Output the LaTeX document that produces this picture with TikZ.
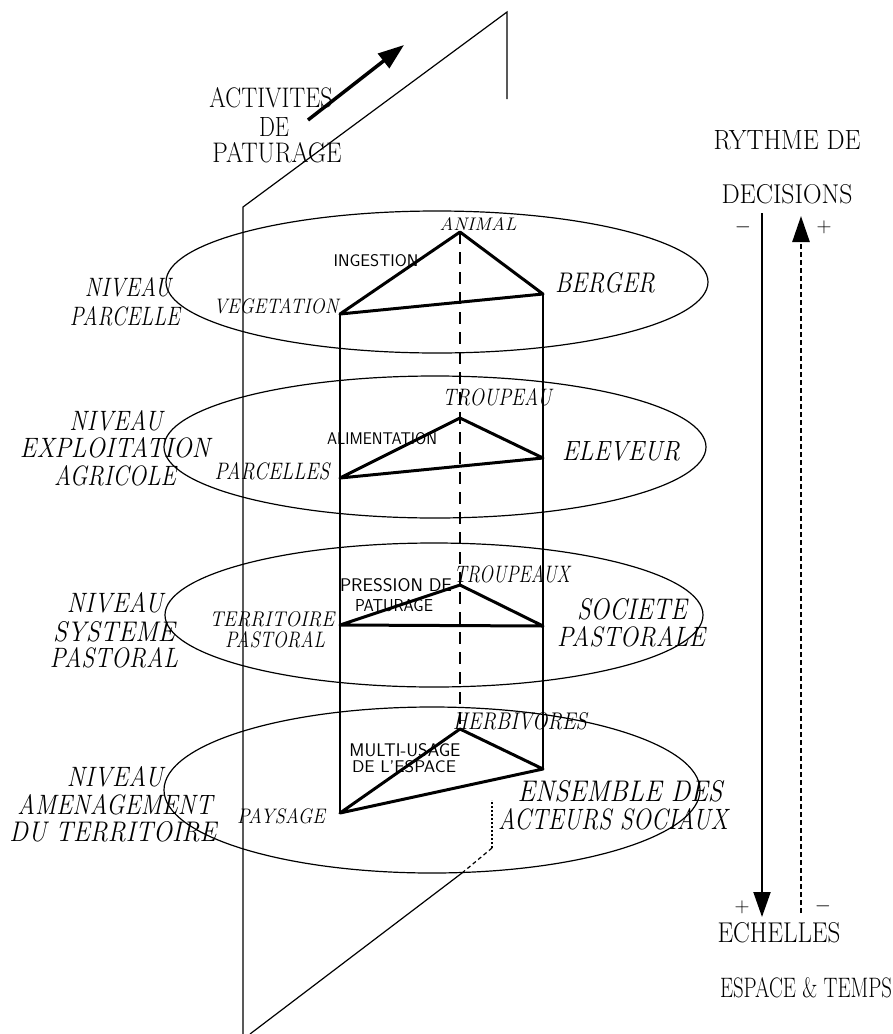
\documentclass[tikz,border=0pt]{standalone}
\usepackage{fontspec}
\usepackage{graphicx}
\usetikzlibrary{arrows.meta}
\newcommand\rb[3]{\resizebox{#1pt}{#2pt}{#3}}
\begin{document}
\begin{tikzpicture}[x=1pt,y=-1pt,
  thinline/.style={line width=1.2pt},
  thickline/.style={line width=3pt, line join=round, line cap=round},
  hidden/.style={line width=1.2pt, dash pattern=on 12pt off 8pt},
  up/.style={inner sep=0pt, font=\fontsize{28}{28}\selectfont\addfontfeature{FakeBold=2.5}},
  it/.style={inner sep=0pt, font=\fontsize{26}{26}\selectfont\itshape\addfontfeature{FakeBold=2.5}},
  sf/.style={inner sep=0pt, font=\fontsize{16}{16}\selectfont\sffamily\addfontfeature{FakeBold=1.5}},
  sign/.style={inner sep=0pt, font=\fontsize{20}{20}\selectfont}
]
\useasboundingbox (0,0) rectangle (893,1034);

% ellipses (levels)
\draw[thinline] (437,282) ellipse [x radius=271pt, y radius=71pt];
\draw[thinline] (435,447) ellipse [x radius=271pt, y radius=71pt];
\draw[thinline] (434,615) ellipse [x radius=269pt, y radius=72pt];
\draw[thinline] (432,790) ellipse [x radius=268pt, y radius=83pt];

% plane
\coordinate (p1) at (243,207);
\coordinate (p2) at (507,12);
\coordinate (p3) at (507,99);
\coordinate (p4) at (243,1034);
\coordinate (p5) at (250,1034);
\coordinate (p6) at (462,873);
\coordinate (p7) at (492,848);
\coordinate (p8) at (492,800);
\draw[thinline] (p4) -- (p1) -- (p2) -- (p3);
\draw[thinline] (p5) -- (p6);
\draw[line width=1.2pt, dash pattern=on 4pt off 3pt] (p6) -- (p7);
\draw[line width=1.2pt, dash pattern=on 2pt off 2pt] (p7) -- (p8);

% triangle vertices
\coordinate (v1) at (340,314); \coordinate (a1) at (460,232); \coordinate (b1) at (543,294);
\coordinate (v2) at (340,478); \coordinate (a2) at (460,418); \coordinate (b2) at (543,458);
\coordinate (v3) at (340,625); \coordinate (a3) at (460,585); \coordinate (b3) at (543,626);
\coordinate (v4) at (340,813); \coordinate (a4) at (460,729); \coordinate (b4) at (543,769);

% prism edges
\draw[thinline] (v1) -- (v4);
\draw[thinline] (b1) -- (b4);
\draw[hidden] (a1) -- (a4);

% triangles
\draw[thickline] (v1) -- (a1) -- (b1) -- cycle;
\draw[thickline] (v2) -- (a2) -- (b2) -- cycle;
\draw[thickline] (v3) -- (a3) -- (b3) -- cycle;
\draw[thickline] (v4) -- (a4) -- (b4) -- cycle;

% top arrow
\coordinate (t1) at (308,120);
\coordinate (t2) at (404,45);
\draw[line width=3.5pt, -{Triangle[length=26pt,width=18pt]}] (t1) -- (t2);

% right arrows
\coordinate (s1) at (762,213);
\coordinate (s2) at (762,917);
\draw[line width=2pt, -{Triangle[length=25pt,width=17pt]}] (s1) -- (s2);
\coordinate (d1) at (801,913);
\coordinate (d2) at (801,216);
\draw[line width=2.6pt, dash pattern=on 5pt off 3pt, -{Triangle[length=26pt,width=17pt]}] (d1) -- (d2);

% top text
\node[up] (act) at (271,98) {\rb{123}{20}{ACTIVITES}};
\node[up] (de) at (274,127) {\rb{30}{19}{DE}};
\node[up] (pat) at (277,153) {\rb{129}{20}{PATURAGE}};

% right text
\node[up] (ryt) at (787,140) {\rb{147}{19}{RYTHME DE}};
\node[up] (dec) at (787,194) {\rb{131}{19}{DECISIONS}};
\node[up] (ech) at (779,933) {\rb{123}{20}{ECHELLES}};
\node[up] (esp) at (806,988) {\rb{172}{20}{ESPACE \& TEMPS}};
\node[sign] (m1) at (743,227) {$-$};
\node[sign] (pl1) at (824,227) {$+$};
\node[sign] (pl2) at (742,907) {$+$};
\node[sign] (m2) at (823,906) {$-$};

% level labels
\node[it] (n1a) at (128,287) {\rb{86}{19}{NIVEAU}};
\node[it] (n1b) at (125,316) {\rb{110}{19}{PARCELLE}};
\node[it] (n2a) at (116,421) {\rb{93}{20}{NIVEAU}};
\node[it] (n2b) at (115,448) {\rb{190}{20}{EXPLOITATION}};
\node[it] (n2c) at (115,476) {\rb{122}{20}{AGRICOLE}};
\node[it] (n3a) at (115,603) {\rb{96}{20}{NIVEAU}};
\node[it] (n3b) at (114,632) {\rb{122}{20}{SYSTEME}};
\node[it] (n3c) at (114,658) {\rb{128}{20}{PASTORAL}};
\node[it] (n4a) at (115,777) {\rb{96}{20}{NIVEAU}};
\node[it] (n4b) at (115,805) {\rb{195}{20}{AMENAGEMENT}};
\node[it] (n4c) at (113,832) {\rb{207}{20}{DU TERRITOIRE}};

% level 1
\node[it] (animal) at (478,224) {\rb{77}{13}{ANIMAL}};
\node[sf] (ing) at (376,261) {\rb{85}{12}{INGESTION}};
\node[it] (veg) at (276,306) {\rb{125}{15}{VEGETATION}};
\node[it] (berger) at (605,283) {\rb{100}{20}{BERGER}};

% level 2
\node[it] (troup) at (497,397) {\rb{109}{17}{TROUPEAU}};
\node[sf] (alim) at (382,439) {\rb{110}{12}{ALIMENTATION}};
\node[it] (parc) at (272,471) {\rb{115}{17}{PARCELLES}};
\node[it] (elev) at (621,451) {\rb{118}{19}{ELEVEUR}};

% level 3
\node[it] (troupx) at (512,574) {\rb{116}{17}{TROUPEAUX}};
\node[sf] (press) at (396,585) {\rb{112}{13}{PRESSION DE}};
\node[sf] (patu) at (394,606) {\rb{78}{12}{PATURAGE}};
\node[it] (terr) at (272,619) {\rb{125}{15}{TERRITOIRE}};
\node[it] (past) at (275,640) {\rb{100}{16}{PASTORAL}};
\node[it] (soc) at (632,609) {\rb{110}{21}{SOCIETE}};
\node[it] (paste) at (631,637) {\rb{148}{20}{PASTORALE}};

% level 4
\node[it] (herb) at (520,721) {\rb{134}{17}{HERBIVORES}};
\node[sf] (multi) at (405,750) {\rb{111}{13}{MULTI-USAGE}};
\node[sf] (desp) at (404,767) {\rb{104}{12}{DE L'ESPACE}};
\node[it] (pays) at (281,816) {\rb{88}{15}{PAYSAGE}};
\node[it] (ens) at (620,791) {\rb{205}{21}{ENSEMBLE DES}};
\node[it] (act2) at (613,819) {\rb{230}{21}{ACTEURS SOCIAUX}};
\end{tikzpicture}
\end{document}
